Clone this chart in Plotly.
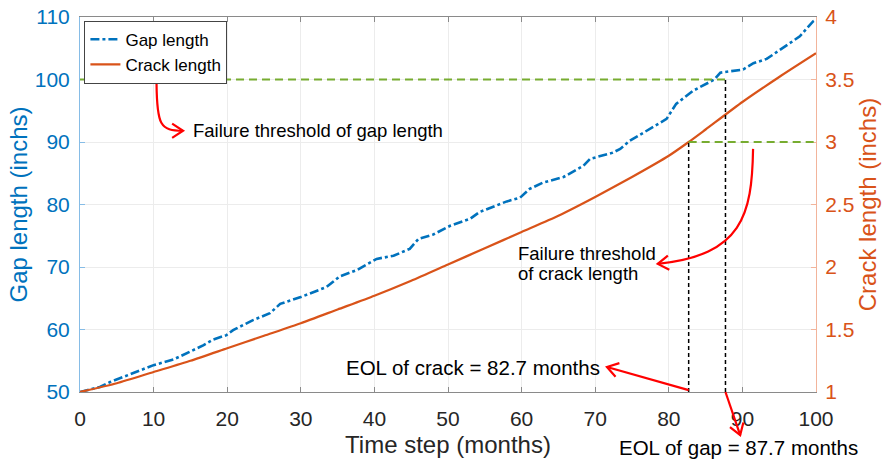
import math
import plotly.graph_objects as go

# ---- data -------------------------------------------------------------
months_gap = [0, 2.7, 4.1, 7.2, 10, 12.7, 13.6, 16.8, 18.1, 19.9,
              20.8, 23.5, 25.8, 27.2, 30, 33.5, 35.3, 37.6, 40.3, 42.6,
              44.8, 46, 48, 50.3, 53, 54.3, 58, 59.8, 61.1, 62.9,
              65.7, 68.4, 69.3, 70.7, 72.4, 73.4, 74.7, 77, 79.7, 81,
              83.3, 86.2, 87, 90.1, 91.5, 93.3, 97.8, 99.6, 100]
gap_length = [50.0, 50.8, 51.6, 53.0, 54.3, 55.2, 55.7, 57.5, 58.4, 59.1,
              59.9, 61.5, 62.6, 64.1, 65.2, 66.8, 68.5, 69.5, 71.3, 71.8,
              72.9, 74.5, 75.2, 76.6, 77.7, 78.8, 80.5, 81.1, 82.5, 83.5,
              84.4, 86.2, 87.3, 87.8, 88.3, 88.9, 90.2, 91.8, 93.7, 96.1,
              98.2, 100.0, 101.1, 101.6, 102.6, 103.3, 106.9, 109.3, 109.6]

months_crack = [0, 5, 10, 15, 20, 25, 30, 35, 40, 45, 50, 55, 60, 65, 70,
                75, 80, 82.7, 85, 90, 95, 100]
crack_length = [1.00, 1.07, 1.16, 1.25, 1.35, 1.45, 1.55, 1.66, 1.77, 1.89,
                2.02, 2.15, 2.28, 2.41, 2.56, 2.72, 2.89, 3.00, 3.10, 3.32,
                3.52, 3.71]

gap_threshold = 100
crack_threshold = 3
eol_crack = 82.7
eol_gap = 87.7

x_range = [0, 100]
gap_range = [50, 110]
crack_range = [1, 4]

BLUE = "#0072BD"
ORANGE = "#D95319"
GREEN = "#77AC30"
RED = "#FF0000"
FONT = "Arial, Liberation Sans, sans-serif"

# plot-area size in pixels (used to keep arrowheads symmetric)
W, H = 885, 461
ML, MR, MT, MB = 80, 69, 17, 69
PW, PH = W - ML - MR, H - MT - MB


def px(x):
    return (x - x_range[0]) / (x_range[1] - x_range[0])


def py(y):
    return (y - gap_range[0]) / (gap_range[1] - gap_range[0])


def P(x, y):
    return (px(x), py(y))


def head(tip, prev, length=13, ang=33):
    dx = (tip[0] - prev[0]) * PW
    dy = (tip[1] - prev[1]) * PH
    n = math.hypot(dx, dy)
    ux, uy = dx / n, dy / n
    wings = []
    for s in (1, -1):
        a = math.radians(s * ang)
        rx = ux * math.cos(a) - uy * math.sin(a)
        ry = ux * math.sin(a) + uy * math.cos(a)
        wings.append((tip[0] - length * rx / PW, tip[1] - length * ry / PH))
    (a1, b1), (a2, b2) = wings
    return f"M {a1},{b1} L {tip[0]},{tip[1]} L {a2},{b2}"


def fmt(p):
    return f"{p[0]},{p[1]}"


fig = go.Figure()
fig.add_trace(go.Scatter(
    x=months_gap, y=gap_length, name="Gap length", mode="lines",
    line=dict(color=BLUE, width=2.6, dash="dashdot"), yaxis="y"))
fig.add_trace(go.Scatter(
    x=months_crack, y=crack_length, name="Crack length", mode="lines",
    line=dict(color=ORANGE, width=2.2, shape="spline", smoothing=0.6), yaxis="y2"))

shapes = []
# failure thresholds
shapes.append(dict(type="line", xref="x", yref="y", x0=x_range[0], x1=eol_gap,
                   y0=gap_threshold, y1=gap_threshold,
                   line=dict(color=GREEN, width=2, dash="8px,5px")))
shapes.append(dict(type="line", xref="x", yref="y2", x0=eol_crack, x1=x_range[1],
                   y0=crack_threshold, y1=crack_threshold,
                   line=dict(color=GREEN, width=2, dash="8px,5px")))
# end-of-life markers
shapes.append(dict(type="line", xref="x", yref="y2", x0=eol_crack, x1=eol_crack,
                   y0=crack_range[0], y1=crack_threshold,
                   line=dict(color="black", width=1.5, dash="4px,3px")))
shapes.append(dict(type="line", xref="x", yref="y", x0=eol_gap, x1=eol_gap,
                   y0=gap_range[0], y1=gap_threshold,
                   line=dict(color="black", width=1.5, dash="4px,3px")))

red = dict(color=RED, width=2.2)

# curved arrow: gap threshold label
a0, a1, a2, a3 = P(10.4, 99.3), P(10.45, 92.7), P(10.9, 91.8), P(14.0, 91.8)
shapes.append(dict(type="path", xref="paper", yref="paper", line=red,
                   path=f"M {fmt(a0)} C {fmt(a1)} {fmt(a2)} {fmt(a3)}"))
shapes.append(dict(type="path", xref="paper", yref="paper", line=red,
                   path=head(a3, a2)))

# curved arrow: crack threshold label
b0, b1, b2, b3 = P(91.45, 88.9), P(91.3, 78.3), P(90.0, 71.9), P(78.5, 70.5)
shapes.append(dict(type="path", xref="paper", yref="paper", line=red,
                   path=f"M {fmt(b0)} C {fmt(b1)} {fmt(b2)} {fmt(b3)}"))
shapes.append(dict(type="path", xref="paper", yref="paper", line=red,
                   path=head(b3, b2)))

# straight arrows to the EOL labels
c0, c1 = P(eol_crack, 50.3), P(71.6, 54.0)
shapes.append(dict(type="path", xref="paper", yref="paper", line=red,
                   path=f"M {fmt(c0)} L {fmt(c1)}"))
shapes.append(dict(type="path", xref="paper", yref="paper", line=red,
                   path=head(c1, c0)))
d0, d1 = P(eol_gap, 50.0), P(eol_gap + 2.0, 43.1)
shapes.append(dict(type="path", xref="paper", yref="paper", line=red,
                   path=f"M {fmt(d0)} L {fmt(d1)}"))
shapes.append(dict(type="path", xref="paper", yref="paper", line=red,
                   path=head(d1, d0)))

txt = dict(family=FONT, color="black")
annotations = [
    dict(x=px(15.1), y=py(91.8), xref="paper", yref="paper",
         text="Failure threshold of gap length",
         showarrow=False, xanchor="left", yanchor="middle", font=dict(size=18.5, **txt)),
    dict(x=px(59.3), y=py(72.1), xref="paper", yref="paper", text="Failure threshold",
         showarrow=False, xanchor="left", yanchor="middle", font=dict(size=18.5, **txt)),
    dict(x=px(59.3), y=py(69.0), xref="paper", yref="paper", text="of crack length",
         showarrow=False, xanchor="left", yanchor="middle", font=dict(size=18.5, **txt)),
    dict(x=px(70.9), y=py(54.0), xref="paper", yref="paper",
         text=f"EOL of crack = {eol_crack} months",
         showarrow=False, xanchor="right", yanchor="middle", font=dict(size=20.5, **txt)),
    dict(x=px(89.5), y=py(41.1), xref="paper", yref="paper",
         text=f"EOL of gap = {eol_gap} months",
         showarrow=False, xanchor="center", yanchor="middle", font=dict(size=20.5, **txt)),
]

fig.update_layout(
    width=W, height=H,
    margin=dict(l=ML, r=MR, t=MT, b=MB, autoexpand=False),
    plot_bgcolor="white", paper_bgcolor="white",
    font=dict(family=FONT),
    showlegend=True,
    legend=dict(x=0.006, y=0.99, xanchor="left", yanchor="top",
                bgcolor="white", bordercolor="#444444", borderwidth=1,
                font=dict(size=17, color="black", family=FONT),
                itemwidth=30, tracegroupgap=0),
    xaxis=dict(range=x_range, dtick=10, tick0=0, ticks="inside", ticklen=5,
               tickcolor="#8a8a8a", showline=True, linecolor="#8a8a8a", mirror="ticks",
               showgrid=True, gridcolor="#ececec", zeroline=False,
               tickfont=dict(size=21, color="#262626"), ticklabelstandoff=8,
               title=dict(text="Time step (months)", font=dict(size=24, color="#262626"),
                          standoff=6),
               automargin=False),
    yaxis=dict(range=gap_range, dtick=10, tick0=50, ticks="inside", ticklen=5,
               tickcolor="#86bce6", showline=True, linecolor="#86bce6",
               showgrid=True, gridcolor="#ececec", zeroline=False,
               tickfont=dict(size=21, color=BLUE), ticklabelstandoff=5,
               title=dict(text="Gap length (inchs)", font=dict(size=24, color=BLUE),
                          standoff=0),
               automargin=False),
    yaxis2=dict(range=crack_range, dtick=0.5, tick0=1, overlaying="y", side="right",
                ticks="inside", ticklen=5, tickcolor="#f2b49b", showline=True,
                linecolor="#f2b49b", showgrid=False, zeroline=False,
                tickfont=dict(size=21, color=ORANGE), ticklabelstandoff=4,
                title=dict(text="Crack length (inchs)", font=dict(size=24, color=ORANGE),
                           standoff=5),
                automargin=False),
    shapes=shapes,
    annotations=annotations,
)

fig.write_html("out.html")
